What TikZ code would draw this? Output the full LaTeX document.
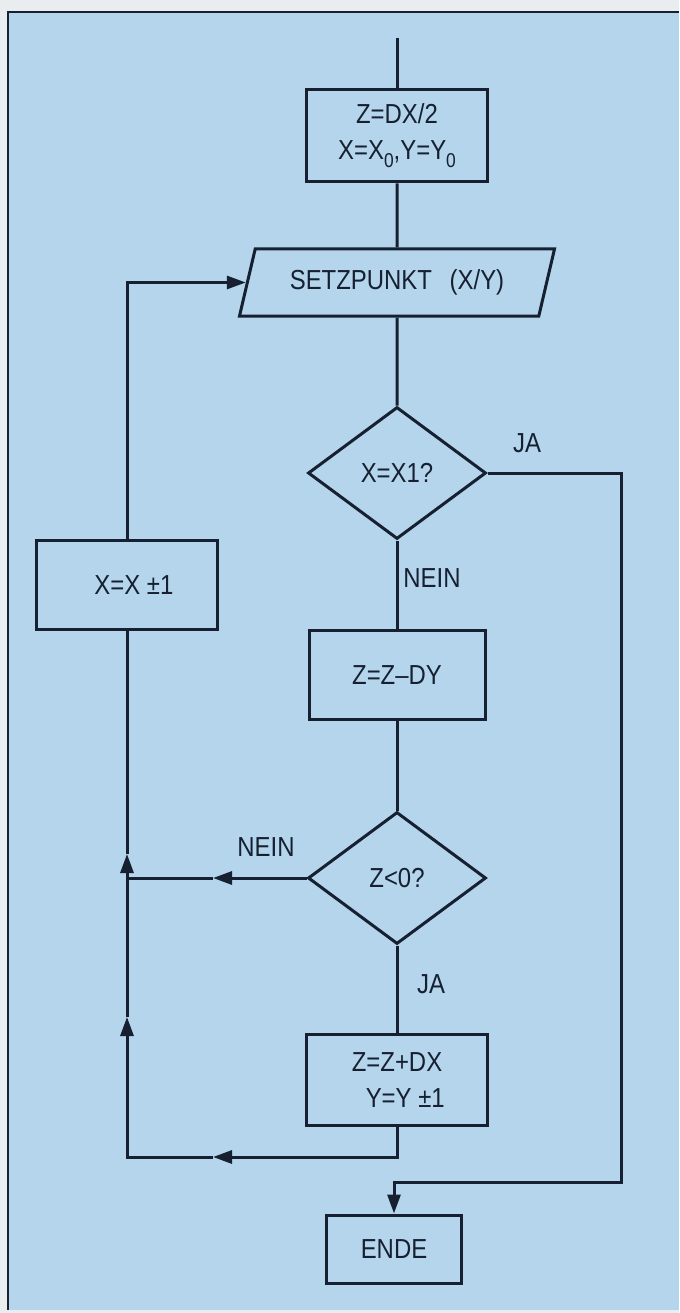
\documentclass[tikz,border=0pt]{standalone}
\usepackage{fontspec}
\setmainfont[FakeStretch=0.87]{Liberation Sans}
\usetikzlibrary{shapes.geometric,arrows.meta}
\definecolor{bgblue}{RGB}{180,213,236}
\definecolor{ink}{RGB}{22,32,48}
\definecolor{paper}{RGB}{234,237,239}
\newcommand{\lowzero}{\raisebox{-0.3em}{\fontsize{20}{20}\selectfont 0}}
\begin{document}
\begin{tikzpicture}[x=1pt,y=-1pt,
  every node/.style={font=\fontsize{27.5}{36}\selectfont, text=ink},
  conn/.style={draw=ink, line width=3pt},
  arr/.style={conn, -{Triangle[length=19pt,width=13pt]}},
  box/.style={rectangle, draw=ink, line width=3pt, inner sep=0pt, align=center},
  dec/.style={diamond, draw=ink, line width=3pt, inner sep=0pt, aspect=1.35, minimum width=178pt, minimum height=132pt},
  io/.style={trapezium, trapezium left angle=58.5, trapezium right angle=121.5, trapezium stretches body, draw=ink, line width=3pt, inner sep=0pt, minimum width=315pt, minimum height=67pt},
  lbl/.style={inner sep=0pt}
]
% background and frame
\fill[paper] (0,0) rectangle (679,1313);
\fill[bgblue] (8,12) rectangle (679,1310);
\draw[ink, line width=1.6pt] (8,1310) -- (8,12) -- (679,12);
\useasboundingbox (0,0) rectangle (679,1313);

% nodes
\coordinate (start) at (397,38);
\node[box, minimum width=181pt, minimum height=92pt] (b1) at (397,136) {Z=DX/2\\X=X\lowzero,Y=Y\lowzero};
\node[io] (p) at (397,282.5) {SETZPUNKT\hspace{0.4em} (X/Y)};
\node[dec] (d1) at (397,473) {X=X1?};
\node[box, minimum width=176pt, minimum height=89pt] (b3) at (397,675) {Z=Z{–}DY};
\node[dec] (d2) at (397,878) {Z<0?};
\node[box, minimum width=181pt, minimum height=91pt] (b4) at (397,1080) {Z=Z+DX\\\hspace{0.6em}Y=Y ±1};
\node[box, minimum width=135pt, minimum height=68pt] (e) at (394,1249) {ENDE};
\node[box, minimum width=181pt, minimum height=89pt] (b2) at (127,585) {\hspace{0.5em}X=X ±1};

% labels
\node[lbl] (ja1) at (527,443) {JA};
\node[lbl] (nein1) at (432,578) {NEIN};
\node[lbl] (nein2) at (266,847) {NEIN};
\node[lbl] (ja2) at (431,984) {JA};

% helper coordinates
\coordinate (r1) at (621,1182);
\coordinate (a1) at (213,1157);
\coordinate (l2) at (127,1157);
\coordinate (a2) at (127,1017);
\coordinate (a3) at (127,854);
\coordinate (j) at (127,878);
\coordinate (a4) at (213,878);

% main column
\draw[conn] (start) -- (b1.north);
\draw[conn] (b1.south) -- (p.north);
\draw[conn] (p.south) -- (d1.north);
\draw[conn] (d1.south) -- (b3.north);
\draw[conn] (b3.south) -- (d2.north);
\draw[conn] (d2.south) -- (b4.north);
\draw[arr] (d1.east) -| (r1) -| (e.north);

% loop back
\draw[arr] (b4.south) |- (a1);
\draw[arr] (a1) -- (l2) -- (a2);
\draw[arr] (a2) -- (a3);
\draw[conn] (a3) -- (b2.south);
\draw[arr] (d2.west) -- (a4);
\draw[conn] (a4) -- (j);
\draw[arr] (b2.north) |- (p.west);
\end{tikzpicture}
\end{document}
